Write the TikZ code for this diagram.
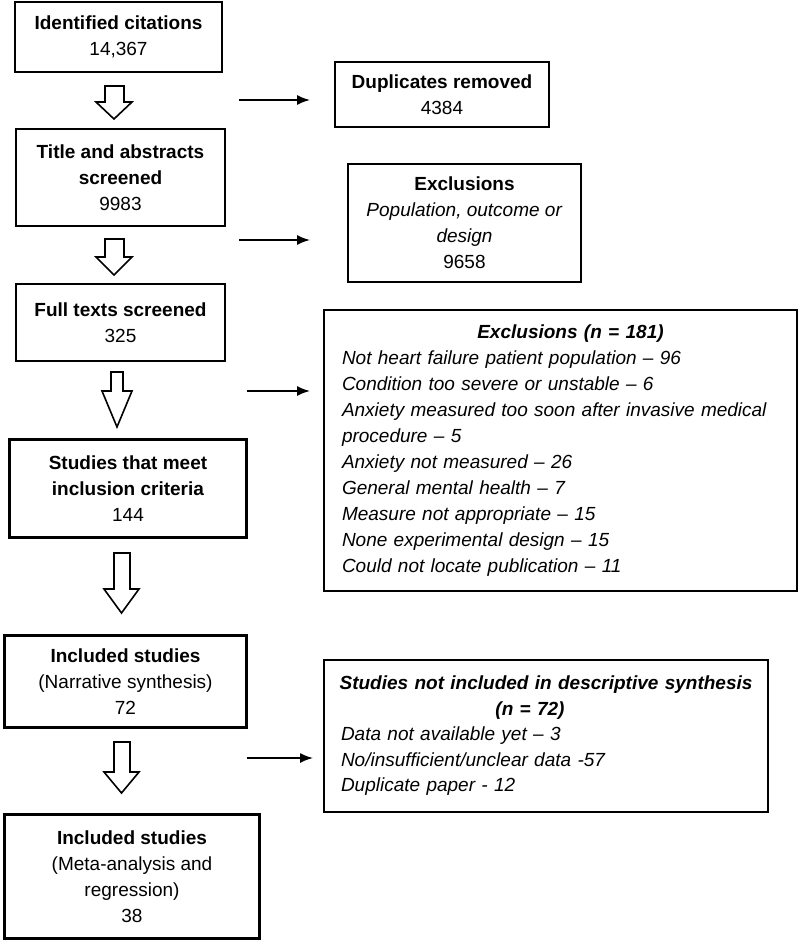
\documentclass[tikz,border=0pt]{standalone}
\usepackage{fontspec}
\setmainfont{Liberation Sans}
\usetikzlibrary{arrows.meta}

\begin{document}
\begin{tikzpicture}[x=1pt, y=-1pt,
  every node/.style={font=\fontsize{19}{26}\selectfont},
  box/.style={draw, line width=1.6pt, align=center, inner sep=0pt},
  thickbox/.style={box, line width=3.4pt},
  hollow/.style={draw, line width=1.6pt, line join=miter},
  link/.style={-{Latex[length=13pt,width=10pt]}, line width=1.6pt}]
\useasboundingbox (0,0) rectangle (800,942);
% left column
\node[box, minimum width=207pt, minimum height=70pt] (ident) at (118.5,37) {\textbf{Identified citations}\\14,367};
\node[box, minimum width=209pt, minimum height=97pt] (title) at (120.5,177.5) {\textbf{Title and abstracts}\\\textbf{screened}\\9983};
\node[box, minimum width=209pt, minimum height=77pt] (full) at (120.5,322.5) {\textbf{Full texts screened}\\325};
\node[thickbox, minimum width=237pt, minimum height=98pt] (meet) at (128,488.5) {\textbf{Studies that meet}\\\textbf{inclusion criteria}\\144};
\node[thickbox, minimum width=242pt, minimum height=92pt] (narr) at (125.5,681.5) {\textbf{Included studies}\\(Narrative synthesis)\\72};
\node[thickbox, minimum width=255pt, minimum height=124pt] (meta) at (132,876.5) {\textbf{Included studies}\\(Meta-analysis and\\regression)\\38};
% right column
\node[box, minimum width=214pt, minimum height=65pt] (dup) at (442,94.5) {\textbf{Duplicates removed}\\4384};
\node[box, minimum width=233pt, minimum height=118pt] (excl) at (464.5,223) {\textbf{Exclusions}\\\textit{Population, outcome or}\\\textit{design}\\9658};
\node[box, minimum width=473pt, minimum height=281pt, text width=437pt] (ex181) at (560.5,450.5) {%
  {\centering\hspace*{20pt}\textbf{\textit{Exclusions (n = 181)}}\par}
  \raggedright\itshape Not heart failure patient population – 96\\
  Condition too severe or unstable – 6\\
  Anxiety measured too soon after invasive medical\\
  procedure – 5\\
  Anxiety not measured – 26\\
  General mental health – 7\\
  Measure not appropriate – 15\\
  None experimental design – 15\\
  Could not locate publication – 11\par};
\node[box, minimum width=444pt, minimum height=152pt, text width=410pt,
  font=\fontsize{19}{25.5}\selectfont] (notinc) at (546,736) {%
  {\centering\makebox[\linewidth]{\textbf{\textit{Studies not included in descriptive synthesis}}}\\
  \textbf{\textit{(n = 72)}}\hspace*{32pt}\par}
  \raggedright\itshape Data not available yet – 3\\
  No/insufficient/unclear data -57\\
  Duplicate paper - 12\par};
% hollow arrows
\draw[hollow] (105,86) -- (124,86) -- (124,102) -- (132,102) -- (114,119) -- (96,102) -- (105,102) -- cycle;
\draw[hollow] (105,239) -- (124,239) -- (124,257) -- (132,257) -- (114,275) -- (96,257) -- (105,257) -- cycle;
\draw[hollow] (111,372) -- (123,372) -- (123,391) -- (132,391) -- (117,427) -- (102,391) -- (111,391) -- cycle;
\draw[hollow] (114,553) -- (130,553) -- (130,589) -- (139,589) -- (121.5,613) -- (104,589) -- (114,589) -- cycle;
\draw[hollow] (114,742) -- (130,742) -- (130,772) -- (139,772) -- (121.5,793) -- (104,772) -- (114,772) -- cycle;
% side arrows
\coordinate (s1) at (239,100);
\coordinate (e1) at (310,100);
\coordinate (s2) at (239,240);
\coordinate (e2) at (310,240);
\coordinate (s3) at (247,391);
\coordinate (e3) at (310,391);
\coordinate (s4) at (247,758);
\coordinate (e4) at (313,758);
\draw[link] (s1) -- (e1);
\draw[link] (s2) -- (e2);
\draw[link] (s3) -- (e3);
\draw[link] (s4) -- (e4);
\end{tikzpicture}
\end{document}
